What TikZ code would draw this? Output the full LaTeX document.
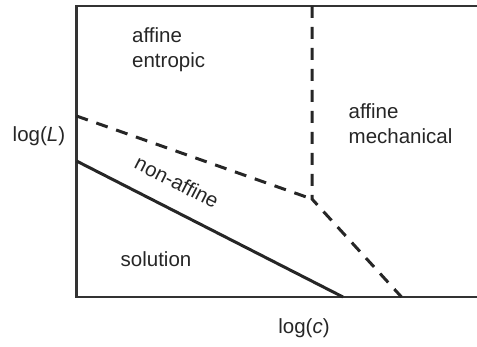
\documentclass[tikz,border=0pt]{standalone}
\usepackage{fontspec}
\setmainfont{Liberation Sans}
\usetikzlibrary{positioning}

\begin{document}
\begin{tikzpicture}[
    x=1pt, y=1pt,
    line join=miter,
    label/.style={font=\fontsize{20.5}{25}\selectfont, align=left, inner sep=0pt, text=black!85},
    axis/.style={line width=2.4pt, black!80},
    border/.style={line width=3pt, black!85},
    dashedborder/.style={line width=3pt, black!85, dash pattern=on 12pt off 9pt}
]

% -------------------------------------------------
% Frame
% -------------------------------------------------
\useasboundingbox (0,0) rectangle (477,346);

\def\Lx{76.5}
\def\Top{340}
\def\Bot{49}
\def\Rx{477}

\coordinate (topleft) at (\Lx,\Top);
\coordinate (botleft) at (\Lx,\Bot);
\coordinate (topright) at (\Rx,\Top);
\coordinate (botright) at (\Rx,\Bot);

\draw[axis] (topright) -- (topleft) -- (botleft) -- (botright);

% -------------------------------------------------
% Phase boundaries
% -------------------------------------------------
\coordinate (upper) at (\Lx,230);
\coordinate (kink) at (312,147);
\coordinate (kinktop) at (312,\Top);
\coordinate (kinkbot) at (401.5,\Bot);
\coordinate (solstart) at (\Lx,185);
\coordinate (solend) at (343,\Bot);

\draw[dashedborder] (upper) -- (kink);
\draw[dashedborder] (kinktop) -- (kink) -- (kinkbot);
\draw[border] (solstart) -- (solend);

% -------------------------------------------------
% Labels
% -------------------------------------------------
\node[label, anchor=west] (entropic) at (132,296.5) {affine\\entropic};
\node[label, anchor=west] (mechanical) at (348.5,222) {affine\\mechanical};
\node[label, rotate=-27] (nonaffine) at (177,164) {non-affine};
\node[label] (solution) at (156,87) {solution};

\node[label, anchor=west] (ylabel) at (12.5,210) {log(\textit{L})};
\node[label] (xlabel) at (304,18) {log(\textit{c})};

\end{tikzpicture}
\end{document}
